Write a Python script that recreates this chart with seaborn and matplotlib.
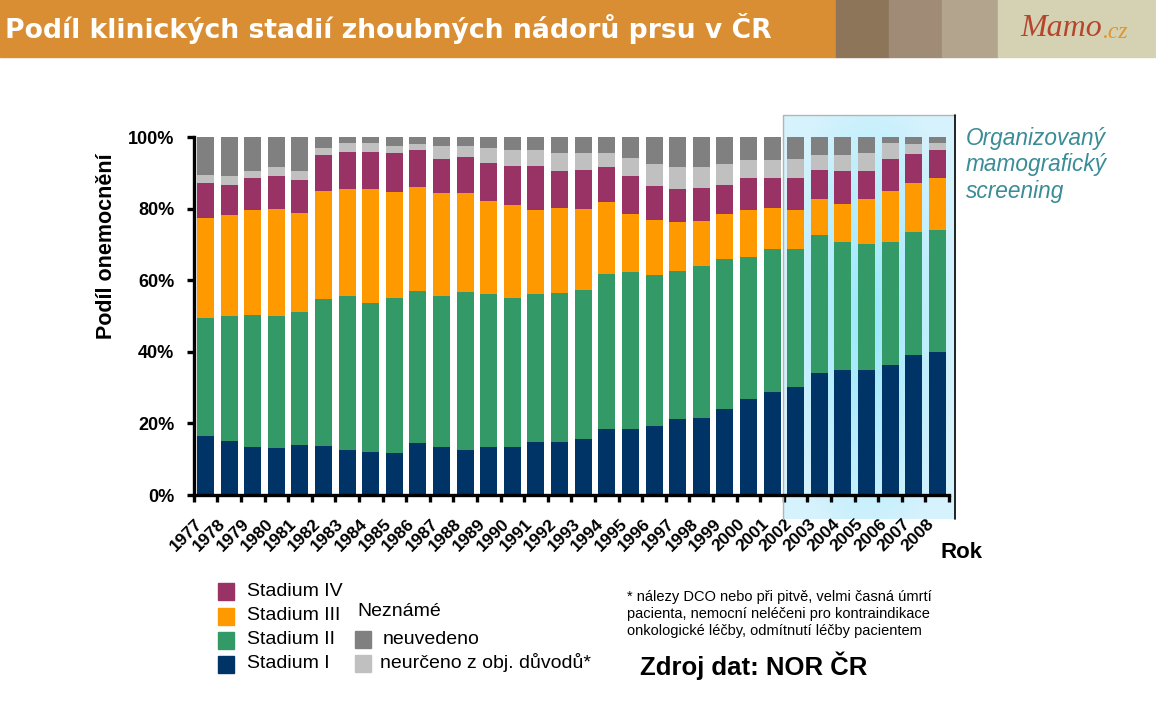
"""
Podíl klinických stadií zhoubných nádorů prsu v ČR, 1977-2008
stacked 100 % bars per year, screening period highlighted.
"""
import numpy as np
import matplotlib
matplotlib.use("Agg")
import matplotlib.pyplot as plt
from matplotlib.patches import Rectangle
from matplotlib.transforms import ScaledTranslation
import seaborn as sns

years = [str(y) for y in range(1977, 2009)]

stadium_1 = [16.5, 15.1, 13.4, 13.1, 14.0, 13.7, 12.6, 12.0, 11.7, 14.5, 13.4, 12.6,
             13.4, 13.4, 14.8, 14.8, 15.6, 18.4, 18.4, 19.3, 21.2, 21.5, 24.0, 26.8,
             28.8, 30.2, 34.1, 34.9, 34.9, 36.3, 39.1, 39.9]
stadium_2 = [32.9, 34.9, 36.9, 36.9, 37.1, 41.0, 43.0, 41.6, 43.3, 42.5, 42.2, 44.1,
             42.7, 41.6, 41.3, 41.6, 41.7, 43.3, 43.9, 42.2, 41.4, 42.5, 41.9, 39.7,
             39.9, 38.5, 38.5, 35.8, 35.2, 34.4, 34.4, 34.1]
stadium_3 = [28.0, 28.2, 29.3, 29.9, 27.7, 30.2, 29.9, 31.9, 29.6, 29.0, 28.8, 27.7,
             26.0, 26.0, 23.5, 23.8, 22.6, 20.1, 16.2, 15.3, 13.7, 12.5, 12.6, 13.1,
             11.5, 10.9, 10.1, 10.6, 12.6, 14.2, 13.7, 14.5]
stadium_4 = [9.8, 8.4, 8.9, 9.2, 9.2, 10.1, 10.3, 10.3, 10.9, 10.4, 9.5, 10.0,
             10.6, 10.9, 12.3, 10.3, 10.9, 9.8, 10.6, 9.5, 9.2, 9.3, 8.1, 8.9,
             8.3, 8.9, 8.1, 9.2, 7.8, 9.0, 8.1, 7.9]
neurceno = [2.2, 2.5, 2.0, 2.5, 2.5, 1.9, 2.5, 2.5, 2.0, 1.6, 3.6, 3.1,
            4.2, 4.5, 4.5, 5.0, 4.7, 3.9, 5.0, 6.2, 6.1, 5.8, 5.9, 5.0,
            5.1, 5.4, 4.2, 4.5, 5.0, 4.4, 2.7, 1.9]
neuvedeno = [10.6, 10.9, 9.5, 8.4, 9.5, 3.1, 1.7, 1.7, 2.5, 2.0, 2.5, 2.5,
             3.1, 3.6, 3.6, 4.5, 4.5, 4.5, 5.9, 7.5, 8.4, 8.4, 7.5, 6.5,
             6.4, 6.1, 5.0, 5.0, 4.5, 1.7, 2.0, 1.7]

stage_names = ["Stadium I", "Stadium II", "Stadium III", "Stadium IV"]
unknown_names = ["neuvedeno", "neurčeno z obj. důvodů*"]
COLORS = {
    "Stadium I": "#003366",
    "Stadium II": "#339966",
    "Stadium III": "#FF9900",
    "Stadium IV": "#993366",
    "neurčeno z obj. důvodů*": "#C0C0C0",
    "neuvedeno": "#808080",
}
screening_start = "2002"

sns.set_theme(style="white")
plt.rcParams["font.family"] = ["Liberation Sans", "DejaVu Sans"]
plt.rcParams.update({"text.color": "black", "axes.labelcolor": "black",
                     "xtick.color": "black", "ytick.color": "black"})

W, H = 1156, 703
fig = plt.figure(figsize=(W / 100, H / 100), dpi=100)


def fx(px):
    return px / W


def fy(py):
    return 1 - py / H


# header band
fig.add_artist(Rectangle((0, fy(57)), fx(836), 57 / H, transform=fig.transFigure,
                         color="#DA8E34", zorder=0))
for x0, x1, c in [(836, 889, "#8D7559"), (889, 942, "#9F8B76"),
                  (942, 998, "#B3A48D"), (998, 1156, "#D5D2B4")]:
    fig.add_artist(Rectangle((fx(x0), fy(57)), fx(x1 - x0), 57 / H,
                             transform=fig.transFigure, color=c, zorder=0))
fig.text(fx(5), fy(29), "Podíl klinických stadií zhoubných nádorů prsu v ČR",
         color="white", fontsize=19.2, fontweight="bold", family="DejaVu Sans",
         ha="left", va="center")
fig.text(fx(1020), fy(28), "Mamo", color="#B5462E", fontsize=23, style="italic",
         family="Liberation Serif", ha="left", va="center")
fig.text(fx(1102), fy(32), ".cz", color="#E0962A", fontsize=17, style="italic",
         family="Liberation Serif", ha="left", va="center")

ax = fig.add_axes([fx(193.7), fy(495), fx(949.1 - 193.7), 358 / H])

# stacked bars: draw cumulative totals from the top down
series = [stadium_1, stadium_2, stadium_3, stadium_4, neurceno, neuvedeno]
names = stage_names + unknown_names[::-1]
cum = np.cumsum(np.array(series), axis=0)
for i in reversed(range(len(series))):
    sns.barplot(x=years, y=cum[i], color=COLORS[names[i]], width=0.72,
                saturation=1, linewidth=0, errorbar=None, ax=ax, zorder=2)

# highlighted screening period
x_start = years.index(screening_start) - 0.55
x_end = len(years) - 0.26
y_lo, y_hi = -6.7, 106.1
u, v = np.meshgrid(np.linspace(-1, 1, 200), np.linspace(-1, 1, 200))
t = np.clip(np.sqrt(0.9 * u ** 2 + 0.7 * v ** 2), 0, 1)[..., None]
center = np.array([0.60, 0.91, 0.99])
edge = np.array([0.84, 0.95, 0.99])
ax.imshow(center + (edge - center) * t, extent=(x_start, x_end, y_lo, y_hi),
          aspect="auto", zorder=0, clip_on=False, interpolation="bilinear")
ax.plot([x_start, x_start, x_end], [y_lo, y_hi, y_hi], color="#B4B4B4", lw=1,
        clip_on=False, zorder=1)
ax.plot([x_end, x_end], [y_lo, y_hi], color="black", lw=1.2, clip_on=False, zorder=1)

ax.set_xlim(-0.5, len(years) - 0.5)
ax.set_ylim(0, 100)
ax.patch.set_alpha(0)

for side in ["top", "right"]:
    ax.spines[side].set_visible(False)
for side in ["left", "bottom"]:
    ax.spines[side].set_color("black")
    ax.spines[side].set_linewidth(2.4)
    ax.spines[side].set_zorder(3)

ax.set_yticks(range(0, 101, 20))
ax.set_yticklabels([f"{v}%" for v in range(0, 101, 20)], fontsize=13, fontweight="bold")
ax.tick_params(axis="y", left=True, direction="out", length=5, width=2.4, pad=9,
               colors="black")

ax.set_xticks(range(len(years)))
ax.set_xticks(np.arange(-0.5, len(years)), minor=True)
ax.set_xticklabels(years, rotation=45, ha="right", va="top", rotation_mode="anchor",
                   fontsize=12.5, fontweight="bold")
ax.tick_params(axis="x", which="major", bottom=True, length=0, pad=15)
ax.tick_params(axis="x", which="minor", bottom=True, direction="out", length=5,
               width=2.4, color="black")
shift = ScaledTranslation(-0.11, 0, fig.dpi_scale_trans)
for lab in ax.get_xticklabels():
    lab.set_transform(lab.get_transform() + shift)
ax.set_xlabel("")
ax.set_ylabel("Podíl onemocnění", fontsize=15.5, fontweight="bold", color="black")
ax.yaxis.set_label_coords((117 - 193.7) / 755.4, (495 - 246) / 358)

fig.text(fx(962), fy(552), "Rok", fontsize=16, fontweight="bold", ha="center", va="center")
fig.text(fx(966), fy(165), "Organizovaný\nmamografický\nscreening", color="#3A8C96",
         fontsize=16.3, style="italic", ha="left", va="center", linespacing=1.18)

# legend, drawn by hand to keep the two-column slide layout
for name, yc in zip(stage_names[::-1], [591, 616, 640, 664]):
    fig.add_artist(Rectangle((fx(218), fy(yc + 8.5)), 16 / W, 17 / H,
                             transform=fig.transFigure, color=COLORS[name]))
    fig.text(fx(247), fy(yc), name, fontsize=14, ha="left", va="center")
fig.text(fx(357), fy(612), "Neznámé", fontsize=14, ha="left", va="center")
for name, yc, tx in zip(unknown_names, [639, 663], [383, 380]):
    fig.add_artist(Rectangle((fx(355), fy(yc + 8.5)), 16 / W, 17 / H,
                             transform=fig.transFigure, color=COLORS[name]))
    fig.text(fx(tx), fy(yc), name, fontsize=14, ha="left", va="center")

fig.text(fx(627), fy(614),
         "* nálezy DCO nebo při pitvě, velmi časná úmrtí\n"
         "pacienta, nemocní neléčeni pro kontraindikace\n"
         "onkologické léčby, odmítnutí léčby pacientem",
         fontsize=10.5, ha="left", va="center", linespacing=1.25)
fig.text(fx(640), fy(666), "Zdroj dat: NOR ČR", fontsize=18.5, fontweight="bold",
         ha="left", va="center")

fig.savefig("out.png", dpi=100)
